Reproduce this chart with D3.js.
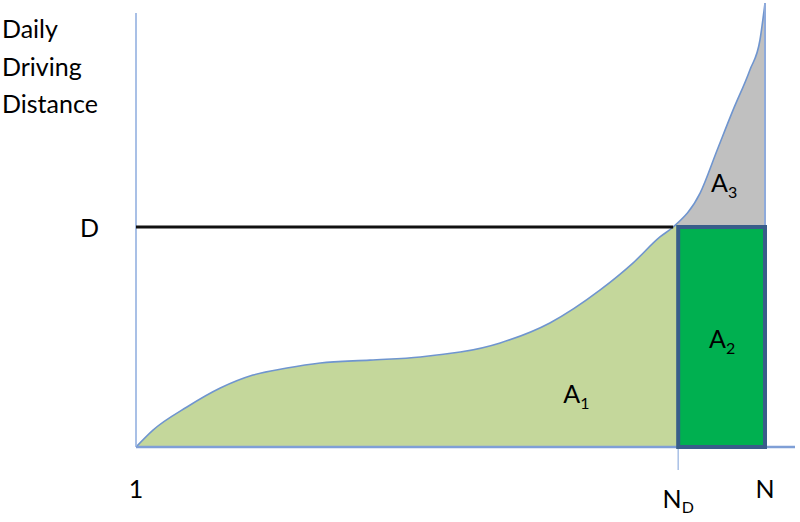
<!DOCTYPE html>
<html><head><meta charset="utf-8">
<script src="https://cdn.jsdelivr.net/npm/d3@7"></script>
<style>body{margin:0;background:#fff}svg{display:block}text{font-family:Lato,"Open Sans",sans-serif;fill:#000}</style>
</head><body><svg id="c" width="800" height="522"></svg>
<script>
// data: vehicles ranked (0..100 = 1..N) vs daily driving distance (D = 100)
const curveX = [0, 2.7, 8.1, 13.4, 18.6, 24.0, 29.3, 37.2, 45.2, 57.9, 65.8, 73.8, 79.0, 83.3, 85.4, 89.7, 92.4, 94.9, 97.6, 99.2, 100];
const curveY = [0, 7.7, 18.2, 26.8, 32.7, 35.9, 38.2, 39.5, 40.9, 47.3, 56.4, 71.4, 83.6, 95.5, 100, 115.5, 135, 153, 171.4, 185, 201.8];
const D = 100;
const ND = 86.2;
const crossX = 85.4;
const yLabel = ["Daily", "Driving", "Distance"];
const xLabels = [{t:"1", v:0}, {t:"N", sub:"D", v:ND}, {t:"N", v:100}];
const areaLabels = [{t:"A", sub:"1", x:70, y:20}, {t:"A", sub:"2", x:93.2, y:45}, {t:"A", sub:"3", x:93.5, y:116}];

const svg = d3.select("#c");
const x = d3.scaleLinear().domain([0,100]).range([136,765]);
const y = d3.scaleLinear().domain([0,100]).range([447,227]);
const pts = curveX.map((v,i)=>[v, curveY[i]]);

const defs = svg.append("defs");
defs.append("clipPath").attr("id","clipG").append("rect")
  .attr("x", x(0)).attr("y", 0).attr("width", x(ND)-x(0)).attr("height", y(0));
defs.append("clipPath").attr("id","clipA3").append("rect")
  .attr("x", x(crossX)).attr("y", 0).attr("width", x(100)-x(crossX)).attr("height", y(D));

const area = d3.area().x(d=>x(d[0])).y0(y(0)).y1(d=>y(d[1])).curve(d3.curveMonotoneX);
const line = d3.line().x(d=>x(d[0])).y(d=>y(d[1])).curve(d3.curveMonotoneX);

svg.append("path").attr("d", area(pts)).attr("fill","#c0c0c0").attr("clip-path","url(#clipA3)");
svg.append("path").attr("d", area(pts)).attr("fill","#c4d79b").attr("clip-path","url(#clipG)");
svg.append("path").attr("d", line(pts)).attr("fill","none").attr("stroke","#6f95cf").attr("stroke-width",1.6);

// axes
svg.append("line").attr("x1",x(0)).attr("x2",x(0)).attr("y1",13).attr("y2",y(0)).attr("stroke","#a9c0e6").attr("stroke-width",2);
svg.append("line").attr("x1",x(100)).attr("x2",x(100)).attr("y1",3).attr("y2",y(0)).attr("stroke","#8eaadb").attr("stroke-width",2);
svg.append("line").attr("x1",x(0)).attr("x2",795).attr("y1",y(0)).attr("y2",y(0)).attr("stroke","#7f9fd6").attr("stroke-width",2.5);
svg.append("line").attr("x1",x(ND)).attr("x2",x(ND)).attr("y1",y(0)).attr("y2",470).attr("stroke","#a9c0e6").attr("stroke-width",1.5);

// D line
svg.append("line").attr("x1",x(0)).attr("x2",x(crossX)).attr("y1",y(D)).attr("y2",y(D)).attr("stroke","#111").attr("stroke-width",3);

// rectangle A2
svg.append("rect").attr("x",x(ND)).attr("y",y(D)).attr("width",x(100)-x(ND)).attr("height",y(0)-y(D))
  .attr("fill","#00b050").attr("stroke","#385d8a").attr("stroke-width",4);

// text
yLabel.forEach((t,i)=>svg.append("text").attr("x",2).attr("y",38+i*37.5).attr("font-size",25).text(t));
svg.append("text").attr("x",80).attr("y",237).attr("font-size",25).text("D");
xLabels.forEach(l=>{
  const t = svg.append("text").attr("x",x(l.v)).attr("y", l.sub?508:498).attr("font-size",25).attr("text-anchor","middle");
  t.append("tspan").text(l.t);
  if(l.sub) t.append("tspan").attr("font-size",16).attr("dy",5).text(l.sub);
});
areaLabels.forEach(l=>{
  const t = svg.append("text").attr("x",x(l.x)).attr("y",y(l.y)).attr("font-size",25).attr("text-anchor","middle");
  t.append("tspan").text(l.t);
  t.append("tspan").attr("font-size",16).attr("dy",6).text(l.sub);
});
</script></body></html>
